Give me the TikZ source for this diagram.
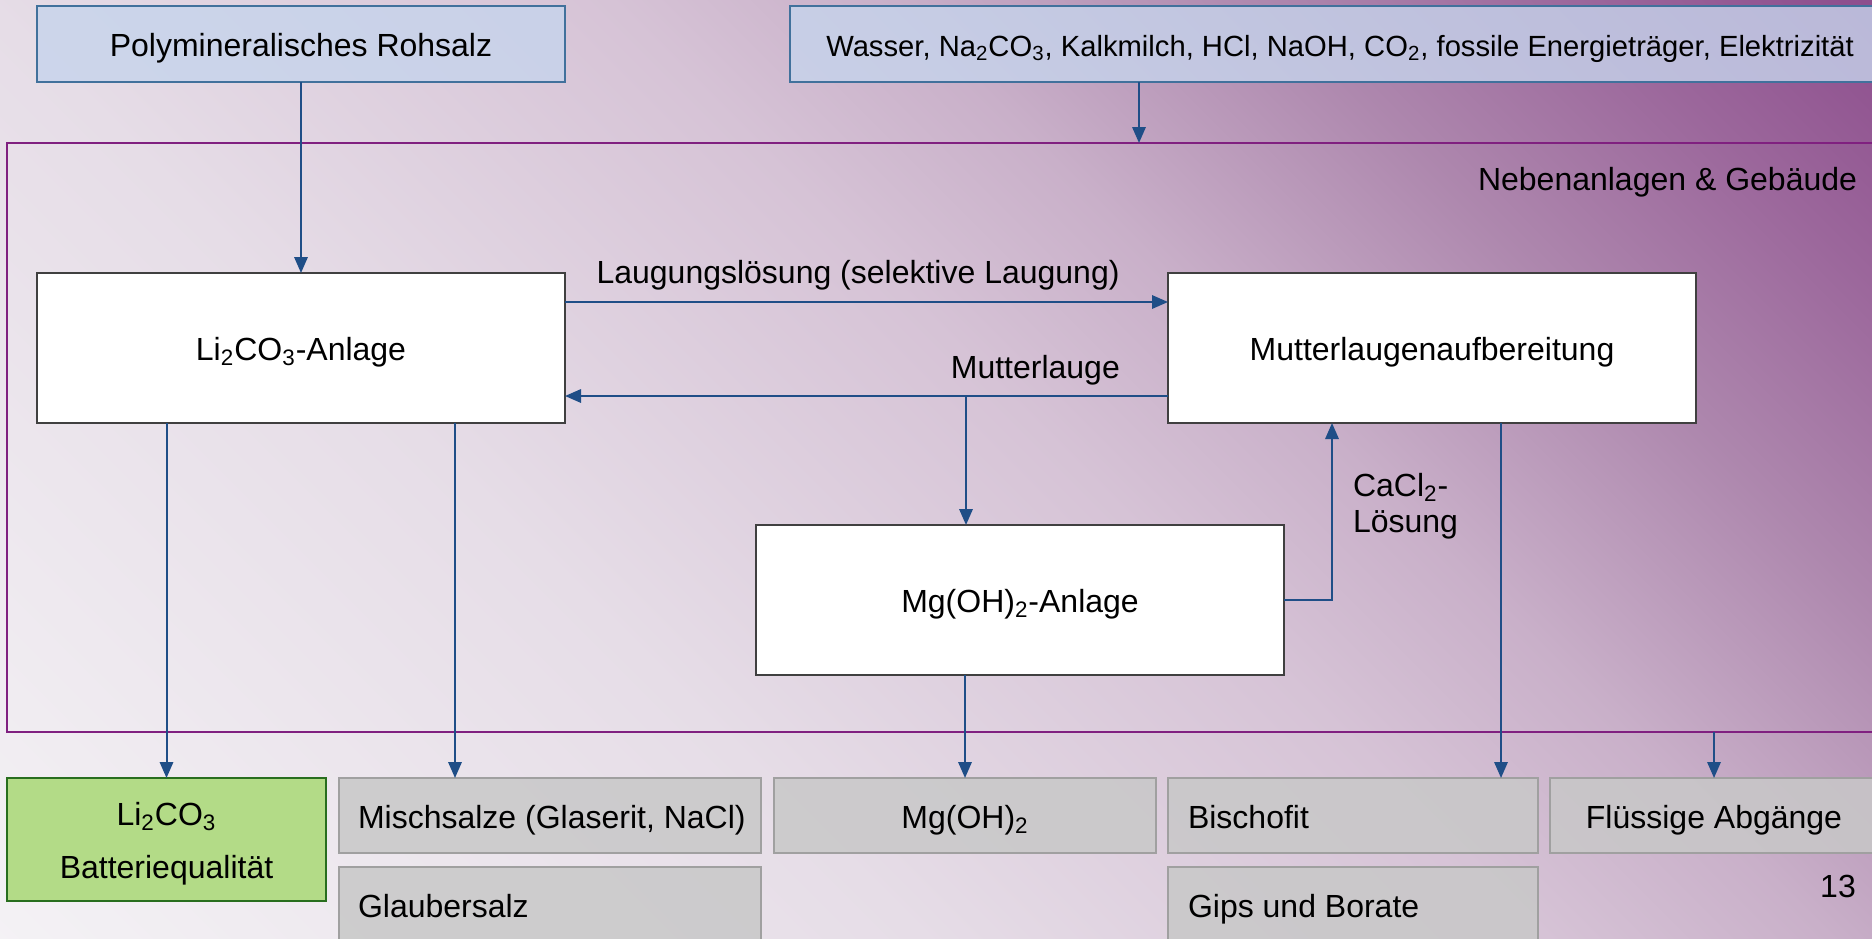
\documentclass[tikz,border=0pt]{standalone}
\usepackage{fontspec}
\setmainfont{Liberation Sans}
\usetikzlibrary{arrows.meta,positioning}

\definecolor{bg0}{RGB}{244,242,245}
\definecolor{bg1}{RGB}{230,221,231}
\definecolor{bg2}{RGB}{214,195,214}
\definecolor{bg3}{RGB}{201,176,201}
\definecolor{bg4}{RGB}{174,136,174}
\definecolor{bg5}{RGB}{156,104,156}
\definecolor{bg6}{RGB}{140,76,140}
\definecolor{flowblue}{RGB}{31,78,135}
\definecolor{inblue}{RGB}{198,212,236}
\definecolor{inborder}{RGB}{65,113,156}
\definecolor{framepurple}{RGB}{128,32,128}
\definecolor{prodgreen}{RGB}{179,219,135}
\definecolor{prodborder}{RGB}{40,110,30}
\definecolor{restgray}{RGB}{200,200,200}
\definecolor{restborder}{RGB}{160,160,160}

\pgfdeclarehorizontalshading{bgshade}{100bp}{color(0bp)=(bg0); color(33bp)=(bg1);
	color(55bp)=(bg2); color(65bp)=(bg3); color(78bp)=(bg4); color(89bp)=(bg5); color(100bp)=(bg6)}

\tikzset{>={Triangle[length=8pt,width=6.7pt]},
	every node/.style={font=\fontsize{16}{19}\selectfont, inner sep=0pt, outer sep=0pt},
	oneline/.style={text height=16pt, text depth=3.5pt},
	every label/.style={oneline},
	inbox/.style={oneline, draw=inborder, line width=0.7pt, fill=inblue, fill opacity=0.8,
		text opacity=1, anchor=north west, minimum height=38pt},
	anlage/.style={oneline, draw=black!75, line width=0.7pt, fill=white, anchor=north west,
		minimum width=264pt, minimum height=75pt},
	restbox/.style={oneline, draw=restborder, line width=0.7pt, fill=restgray, fill opacity=0.85,
		text opacity=1, anchor=north west, minimum height=37.5pt},
	flow/.style={->, draw=flowblue, line width=1pt}}

\begin{document}
\begin{tikzpicture}[x=0.5pt, y=-0.5pt]
	\useasboundingbox (0,0) rectangle (1872,938);
	\begin{scope}
		\clip (0,0) rectangle (1872,938);
		\node[rotate=45, scale=10] (hintergrund) at (936,469) {\pgfuseshading{bgshade}};
	\end{scope}

	% Eingaenge
	\node[inbox, minimum width=264pt] (rohsalz) at (37,6) {Polymineralisches Rohsalz};
	\node[inbox, minimum width=550pt, font=\fontsize{14.6}{17}\selectfont] (hilfs) at (790,6)
		{Wasser, Na\textsubscript{2}CO\textsubscript{3}, Kalkmilch, HCl, NaOH, CO\textsubscript{2}, fossile Energieträger, Elektrizität};

	% Nebenanlagen
	\node[draw=framepurple, line width=0.7pt, anchor=north west,
		minimum width=937pt, minimum height=294.5pt] (neben) at (7,143) {};
	\node[oneline, anchor=east] (nebentext) at (1857,178) {Nebenanlagen \& Gebäude};
	\coordinate (zufuhr) at (1139,143);

	\node[anlage] (anlage) at (37,273) {Li\textsubscript{2}CO\textsubscript{3}-Anlage};
	\node[anlage] (mutter) at (1168,273) {Mutterlaugenaufbereitung};
	\node[anlage] (mganlage) at (756,525) {Mg(OH)\textsubscript{2}-Anlage};

	% Produkte
	\node[draw=prodborder, line width=0.7pt, fill=prodgreen, anchor=north west,
		minimum width=159.5pt, minimum height=61.5pt,
		label={[align=center, text height=, text depth=, yshift=-2pt]center:Li\textsubscript{2}CO\textsubscript{3}\\[7.5pt]Batteriequalität}]
		(prod) at (7,778) {};
	\node[restbox, minimum width=211pt,
		label={[anchor=west, xshift=9.5pt]west:Mischsalze (Glaserit, NaCl)}] (misch) at (339,778) {};
	\node[restbox, minimum width=211pt, minimum height=38pt,
		label={[anchor=west, xshift=9.5pt]west:Glaubersalz}] (glauber) at (339,867) {};
	\node[restbox, minimum width=191pt] (mgoh) at (774,778) {Mg(OH)\textsubscript{2}};
	\node[restbox, minimum width=185pt,
		label={[anchor=west, xshift=10pt]west:Bischofit}] (bischofit) at (1168,778) {};
	\node[restbox, minimum width=185pt, minimum height=38pt,
		label={[anchor=west, xshift=10pt]west:Gips und Borate}] (gips) at (1168,867) {};
	\node[restbox, minimum width=164pt] (fluessig) at (1550,778) {Flüssige Abgänge};
	\node (seite) at (1838,886) {13};

	% Stroeme
	\draw[flow] (rohsalz.south) -- (anlage.north);
	\draw[flow] (hilfs.south -| zufuhr) -- (zufuhr);
	\draw[flow] ([yshift=-14.5pt]anlage.north east) --
		node[pos=0.486, above=6pt] (laugtext) {Laugungslösung (selektive Laugung)}
		([yshift=-14.5pt]mutter.north west);
	\draw[flow] ([yshift=13.5pt]mutter.south west) --
		node[pos=0.22, above=5.5pt] (mutterltext) {Mutterlauge}
		([yshift=13.5pt]anlage.south east);
	\coordinate (abzw) at (966,396);
	\draw[flow] (abzw) -- (abzw |- mganlage.north);
	\draw[flow] (mganlage.east) -| ([xshift=-50pt]mutter.south);
	\node[anchor=west, align=left, font=\fontsize{16}{18}\selectfont] (cacltext) at (1353,506)
		{CaCl\textsubscript{2}-\\Lösung};
	\draw[flow] ([xshift=34.5pt]mutter.south) -- ([xshift=34.5pt]mutter.south |- bischofit.north);
	\draw[flow] (anlage.south -| prod.north) -- (prod.north);
	\draw[flow] ([xshift=77pt]anlage.south) -- ([xshift=77pt]anlage.south |- misch.north);
	\draw[flow] (mgoh.north |- mganlage.south) -- (mgoh.north);
	\draw[flow] (fluessig.north |- neben.south) -- (fluessig.north);
\end{tikzpicture}
\end{document}
